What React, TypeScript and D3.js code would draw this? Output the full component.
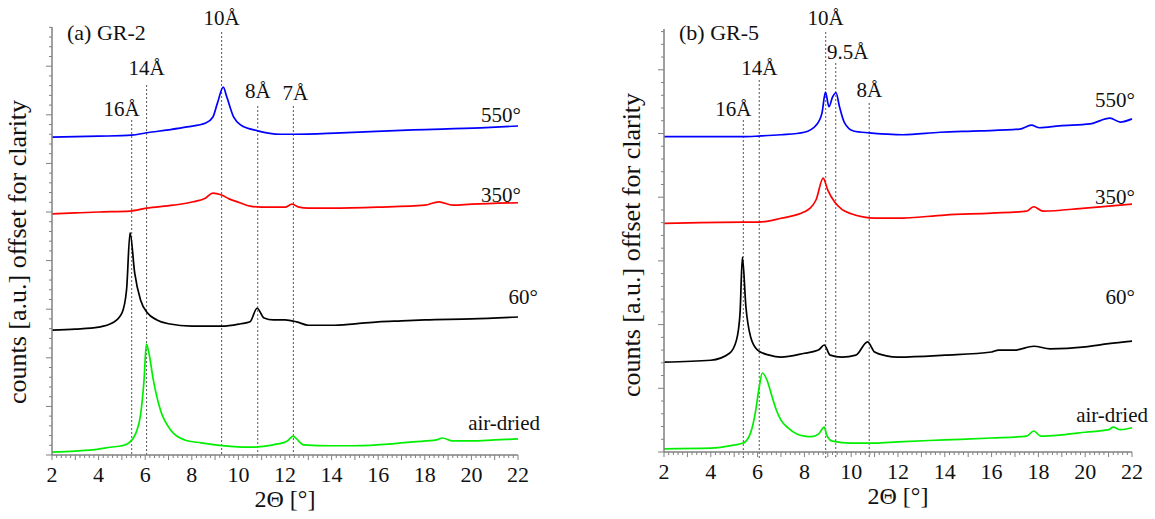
import React from "react";
import * as d3 from "d3";

type P = [number, number];

// ---- data: 2θ (deg), counts [a.u.] offset for clarity ----
const gr2Air: P[] = [[2,0.06],[3,0.08],[4,0.12],[4.5,0.16],[5,0.19],[5.3,0.25],[5.6,0.45],[5.8,0.82],[5.95,1.54],[6.05,2.28],[6.15,2.12],[6.35,1.54],[6.65,0.93],[7.1,0.51],[7.7,0.31],[8.4,0.25],[9,0.21],[10.5,0.16],[11.5,0.21],[12.1,0.29],[12.35,0.39],[12.5,0.33],[12.8,0.21],[14,0.19],[15,0.19],[16.6,0.23],[17.5,0.27],[18.5,0.31],[18.75,0.35],[19.2,0.29],[20,0.29],[21,0.31],[22,0.33]];
const gr2T60: P[] = [[2,2.57],[3,2.59],[4,2.63],[4.6,2.72],[5,2.92],[5.2,3.4],[5.35,4.57],[5.55,3.74],[5.8,3.19],[6.1,2.92],[6.5,2.78],[7,2.7],[8,2.65],[9.3,2.65],[10.1,2.7],[10.5,2.74],[10.8,3.02],[11.1,2.82],[11.5,2.78],[12,2.78],[12.5,2.74],[13,2.67],[14,2.67],[15,2.7],[16,2.74],[17,2.76],[18,2.78],[20,2.8],[22,2.84]];
const gr2T350: P[] = [[2,4.96],[3,4.98],[4,5.0],[5.35,5.02],[6.06,5.08],[7.2,5.14],[8.05,5.21],[8.6,5.29],[8.9,5.39],[9.28,5.35],[9.6,5.27],[10.07,5.19],[10.5,5.12],[11,5.1],[12,5.1],[12.3,5.16],[12.6,5.1],[13,5.08],[14,5.08],[16,5.1],[18,5.14],[18.6,5.21],[19.2,5.14],[20,5.16],[22,5.19]];
const gr2T550: P[] = [[2,6.54],[4,6.56],[5.42,6.58],[6.06,6.63],[7,6.69],[7.8,6.75],[8.6,6.83],[8.9,6.95],[9.1,7.24],[9.35,7.57],[9.5,7.37],[9.8,6.95],[10.1,6.79],[10.83,6.67],[11.8,6.6],[12.4,6.6],[14.4,6.63],[17.5,6.69],[20.4,6.73],[22,6.77]];

const gr5Air: P[] = [[2,0.05],[4,0.06],[5,0.11],[5.39,0.14],[5.7,0.3],[5.9,0.61],[6.07,1.02],[6.2,1.24],[6.4,1.13],[6.6,0.89],[6.8,0.66],[7,0.5],[7.3,0.38],[7.7,0.28],[8,0.25],[8.3,0.24],[8.6,0.28],[8.85,0.39],[8.95,0.27],[9.2,0.17],[10,0.14],[11,0.14],[12,0.16],[14,0.19],[16,0.22],[17.5,0.25],[17.8,0.33],[18.1,0.25],[19,0.27],[20,0.31],[21,0.35],[21.2,0.39],[21.5,0.35],[22,0.38]];
const gr5T60: P[] = [[2,1.41],[4,1.44],[4.8,1.55],[5.1,1.76],[5.25,2.18],[5.35,3.06],[5.5,2.28],[5.7,1.81],[6,1.6],[6.5,1.52],[7,1.49],[8,1.55],[8.6,1.6],[8.85,1.68],[9.1,1.52],[9.6,1.49],[10.2,1.52],[10.7,1.73],[11,1.57],[11.5,1.51],[12,1.49],[14,1.52],[16,1.57],[16.3,1.6],[17,1.6],[17.8,1.66],[18.5,1.62],[20,1.65],[21,1.7],[22,1.74]];
const gr5T350: P[] = [[2,3.59],[5.39,3.61],[6.07,3.61],[7,3.67],[8,3.77],[8.5,3.96],[8.8,4.3],[9,4.11],[9.3,3.92],[9.6,3.81],[10,3.74],[10.5,3.69],[11,3.67],[12,3.67],[14,3.72],[16,3.75],[17.5,3.78],[17.8,3.85],[18.2,3.78],[20,3.83],[21,3.86],[22,3.89]];
const gr5T550: P[] = [[2,4.95],[5.4,4.95],[6.07,4.96],[7,4.98],[8,5.02],[8.5,5.13],[8.75,5.32],[8.9,5.65],[9.05,5.42],[9.2,5.57],[9.35,5.64],[9.5,5.42],[9.7,5.18],[10.1,5.04],[10.77,5.01],[11.5,4.99],[12.2,4.98],[13.8,5.02],[15.5,5.04],[17.2,5.07],[17.7,5.13],[18.05,5.09],[18.9,5.12],[20.2,5.15],[21.06,5.24],[21.5,5.18],[22,5.23]];

const seriesNames = ["air-dried", "60°", "350°", "550°"];
const seriesColors = ["#00ee00", "#000000", "#ff0000", "#0000ff"];
const xTickLabels = [2, 4, 6, 8, 10, 12, 14, 16, 18, 20, 22];

const gr2Refs = ["16Å", "14Å", "10Å", "8Å", "7Å"];
const gr2RefPos = [5.42, 6.06, 9.28, 10.83, 12.36];
const gr5Refs = ["16Å", "14Å", "10Å", "9.5Å", "8Å"];
const gr5RefPos = [5.39, 6.07, 8.91, 9.34, 10.77];

// ---- layout ----
const FONT = "'Liberation Serif', 'DejaVu Serif', serif";

interface PanelProps {
  title: string;
  series: P[][];
  refs: string[];
  refPos: number[];
  refTop: number[];
  refLabelY: number[];
  refLabelDx: number[];
  seriesLabelY: number[];
  seriesLabelX: number[];
  x0: number; x1: number; yBottom: number; yTop: number; yMax: number;
  yLabelX: number; yLabelY: number;
  refBottomExtra: number;
}

function Panel(p: PanelProps) {
  const x = d3.scaleLinear().domain([2, 22]).range([p.x0, p.x1]);
  const y = d3.scaleLinear().domain([0, p.yMax]).range([p.yBottom, p.yTop]);
  const line = d3.line<P>().x(d => x(d[0])).y(d => y(d[1])).curve(d3.curveMonotoneX);
  const xMinor = d3.range(2, 22.001, 0.2);
  const yMinor = d3.range(0, p.yMax + 0.001, 0.2);
  const axisColor = "#808080";
  const ts = (fs: number) => ({ fontFamily: FONT, fontSize: fs + "px", fill: "#111" } as React.CSSProperties);
  return (
    <g>
      {p.refPos.map((v, i) => (
        <line key={"r" + i} x1={x(v)} x2={x(v)} y1={p.refTop[i]} y2={p.yBottom + p.refBottomExtra}
          stroke="#555" strokeWidth={1} strokeDasharray="2,2" />
      ))}
      {p.refs.map((t, i) => (
        <text key={"rl" + i} x={x(p.refPos[i]) + p.refLabelDx[i]} y={p.refLabelY[i]} textAnchor="middle" style={ts(21)}>{t}</text>
      ))}
      {p.series.map((s, i) => (
        <path key={"s" + i} d={line(s) || ""} fill="none" stroke={seriesColors[i]} strokeWidth={1.7} />
      ))}
      {seriesNames.map((n, i) => (
        <text key={"sl" + i} x={p.seriesLabelX[i]} y={p.seriesLabelY[i]} textAnchor="end" style={ts(21)}>{n}</text>
      ))}
      <line x1={p.x0} x2={p.x1} y1={p.yBottom} y2={p.yBottom} stroke={axisColor} strokeWidth={1.5} />
      <line x1={p.x0} x2={p.x0} y1={p.yBottom} y2={p.yTop} stroke={axisColor} strokeWidth={1.5} />
      {xMinor.map((v, i) => {
        const major = Math.abs(v - Math.round(v)) < 1e-6;
        return <line key={"xt" + i} x1={x(v)} x2={x(v)} y1={p.yBottom} y2={p.yBottom + (major ? 5 : 3)}
          stroke={axisColor} strokeWidth={1} />;
      })}
      {yMinor.map((v, i) => {
        const major = Math.abs(v - Math.round(v)) < 1e-6;
        return <line key={"yt" + i} x1={p.x0} x2={p.x0 - (major ? 6 : 3)} y1={y(v)} y2={y(v)}
          stroke={axisColor} strokeWidth={1} />;
      })}
      {xTickLabels.map((v) => (
        <text key={"xl" + v} x={x(v)} y={p.yBottom + 27} textAnchor="middle" style={ts(22)}>{v}</text>
      ))}
      <text x={(p.x0 + p.x1) / 2} y={p.yBottom + 52} textAnchor="middle" style={ts(24)}>2Θ [°]</text>
      <text transform={`translate(${p.yLabelX},${p.yLabelY}) rotate(-90)`} textAnchor="middle" style={ts(26)}>counts [a.u.] offset for clarity</text>
      <text x={p.x0 + 15} y={40} style={ts(22)}>{p.title}</text>
    </g>
  );
}

export default function App() {
  return (
    <svg width={1155} height={519} style={{ position: "absolute", left: 0, top: 0, background: "#fff" }}>
      <rect width={1155} height={519} fill="#fff" />
      <Panel title="(a) GR-2" series={[gr2Air, gr2T60, gr2T350, gr2T550]}
        refs={gr2Refs} refPos={gr2RefPos}
        refTop={[120, 85, 32, 106, 106]} refLabelY={[116, 75, 25, 98, 100]} refLabelDx={[-10, 0, 0, 0, 2]}
        seriesLabelX={[540, 538, 521, 521]} seriesLabelY={[430, 304, 202, 122]}
        x0={52} x1={518} yBottom={455} yTop={27} yMax={428 / 48.6}
        yLabelX={26} yLabelY={252} refBottomExtra={0} />
      <Panel title="(b) GR-5" series={[gr5Air, gr5T60, gr5T350, gr5T550]}
        refs={gr5Refs} refPos={gr5RefPos}
        refTop={[120, 80, 32, 63, 103]} refLabelY={[116, 75, 25, 59, 97]} refLabelDx={[-10, 0, 0, 12, 0]}
        seriesLabelX={[1148, 1135, 1135, 1135]} seriesLabelY={[422, 304, 204, 107]}
        x0={664} x1={1132} yBottom={452} yTop={29} yMax={423 / 63.7}
        yLabelX={640} yLabelY={245} refBottomExtra={6} />
    </svg>
  );
}
